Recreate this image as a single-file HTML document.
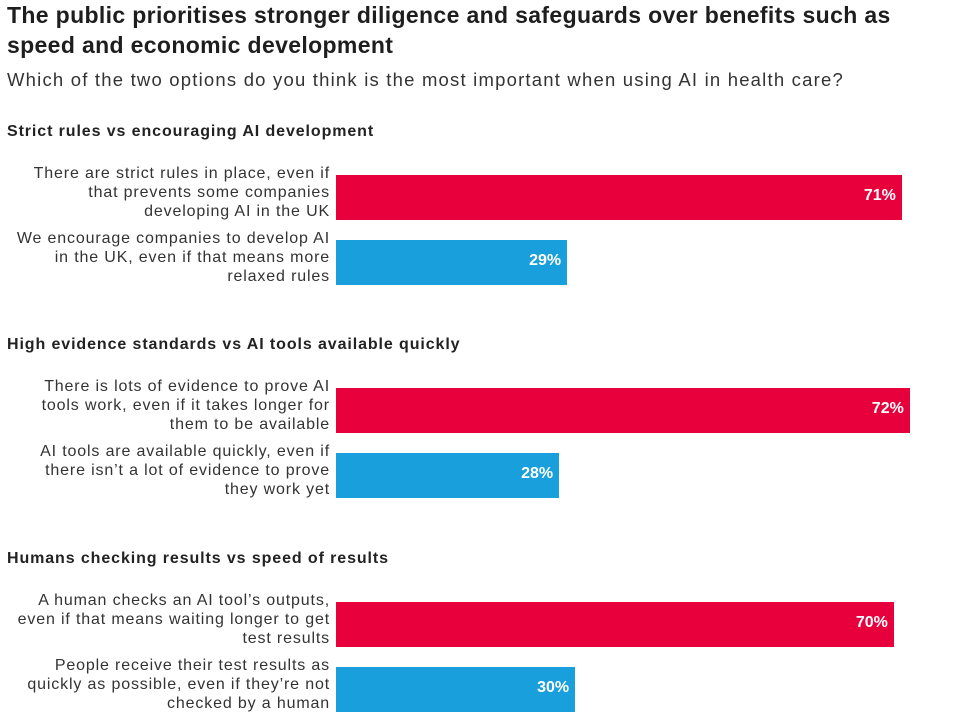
<!DOCTYPE html>
<html><head><meta charset="utf-8"><style>
body{margin:0;width:958px;height:722px;background:#fff;font-family:"Liberation Sans",sans-serif;color:#222;overflow:hidden;position:relative}
.t{position:absolute;left:7px;top:0px;font-size:23px;font-weight:bold;line-height:30px;width:925px;color:#1e1e1e;letter-spacing:0.35px}
.s{position:absolute;left:7px;top:69px;font-size:18.5px;color:#333;letter-spacing:1.2px}
.g{position:absolute;left:7px;font-size:16px;font-weight:bold;color:#222;letter-spacing:0.9px}
.l{position:absolute;right:628px;text-align:right;font-size:16px;line-height:19px;color:#333;width:330px;letter-spacing:0.85px}
.b{position:absolute;left:336px;height:45px}
.v{position:absolute;color:#fff;font-weight:bold;font-size:16px;line-height:45px;text-align:right}
</style></head><body>
<div class="t">The public prioritises stronger diligence and safeguards over benefits such as speed and economic development</div>
<div class="s">Which of the two options do you think is the most important when using AI in health care?</div>
<div id="c"></div>
<script>
const groups=["Strict rules vs encouraging AI development","High evidence standards vs AI tools available quickly","Humans checking results vs speed of results"];
const labels=[["There are strict rules in place, even if<br>that prevents some companies<br>developing AI in the UK","We encourage companies to develop AI<br>in the UK, even if that means more<br>relaxed rules"],["There is lots of evidence to prove AI<br>tools work, even if it takes longer for<br>them to be available","AI tools are available quickly, even if<br>there isn’t a lot of evidence to prove<br>they work yet"],["A human checks an AI tool’s outputs,<br>even if that means waiting longer to get<br>test results","People receive their test results as<br>quickly as possible, even if they’re not<br>checked by a human"]];
const values=[[71,29],[72,28],[70,30]];
const colors=["#e8003d","#1a9fdd"];
const c=document.getElementById('c');
const x=v=>v*7.97;
groups.forEach((g,gi)=>{
  const top=gi*213.3;
  const h=document.createElement('div');h.className='g';h.style.top=(top+123)+'px';h.textContent=g;
  
  
  c.appendChild(h);
  values[gi].forEach((v,i)=>{
    const y=top+175+i*65;
    const l=document.createElement('div');l.className='l';l.style.top=(y-11)+'px';l.innerHTML=labels[gi][i];
    
    
    c.appendChild(l);
    const b=document.createElement('div');b.className='b';b.style.top=y+'px';b.style.width=x(v)+'px';b.style.background=colors[i];
    
    
    c.appendChild(b);
    const t=document.createElement('div');t.className='v';t.style.top=(y-2)+'px';t.style.left='336px';t.style.width=(x(v)-6)+'px';t.textContent=v+'%';
    
    
    c.appendChild(t);
  });
});
</script>
</body></html>
